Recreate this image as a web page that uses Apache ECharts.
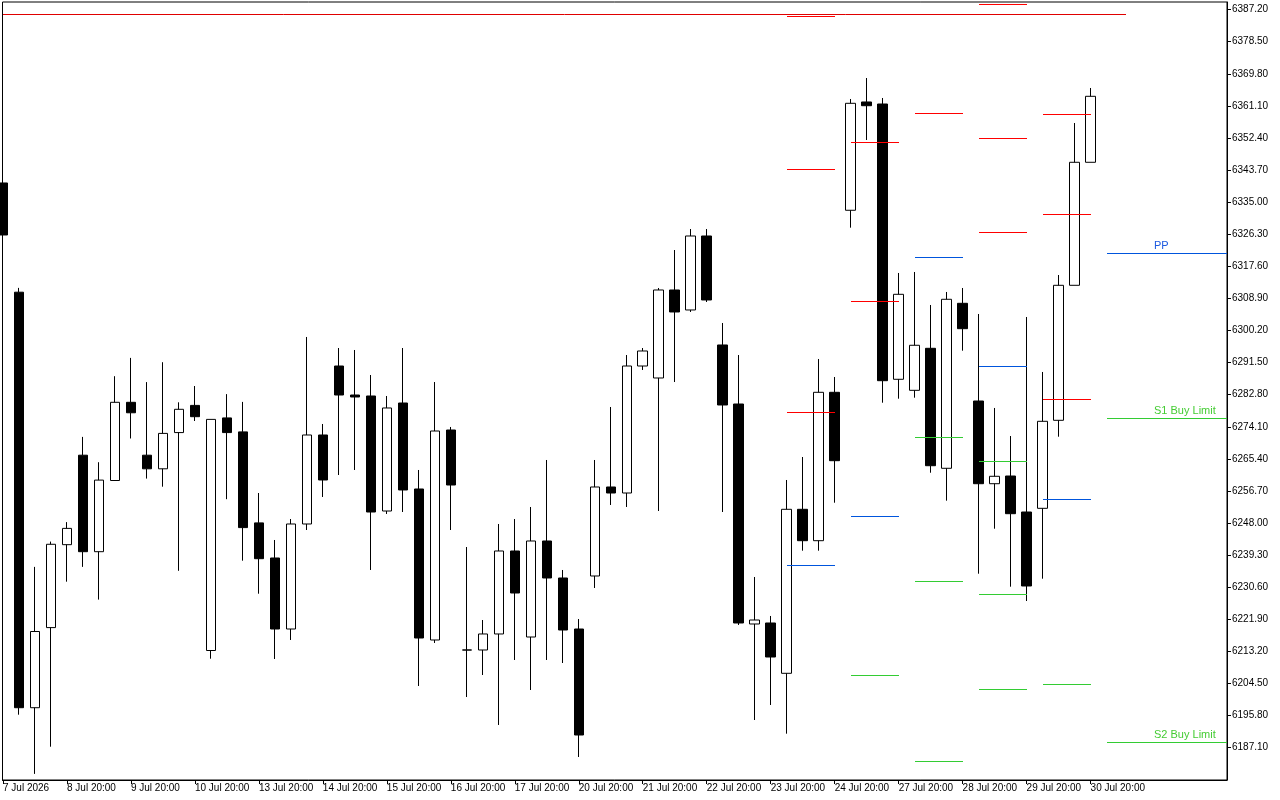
<!DOCTYPE html>
<html><head><meta charset="utf-8">
<script src="https://cdn.jsdelivr.net/npm/echarts@6/dist/echarts.min.js"></script>
<style>html,body{margin:0;padding:0;background:#fff}#c{width:1280px;height:800px}</style>
</head><body><div id="c"></div>
<script>
// ---- data ----
const xTickIndex = [0,4,8,12,16,20,24,28,32,36,40,44,48,52,56,60,64,68];
const xTickLabels = ['7 Jul 2026','8 Jul 20:00','9 Jul 20:00','10 Jul 20:00','13 Jul 20:00','14 Jul 20:00','15 Jul 20:00','16 Jul 20:00','17 Jul 20:00','20 Jul 20:00','21 Jul 20:00','22 Jul 20:00','23 Jul 20:00','24 Jul 20:00','27 Jul 20:00','28 Jul 20:00','29 Jul 20:00','30 Jul 20:00'];
const yTickValues = [6187.10,6195.80,6204.50,6213.20,6221.90,6230.60,6239.30,6248.00,6256.70,6265.40,6274.10,6282.80,6291.50,6300.20,6308.90,6317.60,6326.30,6335.00,6343.70,6352.40,6361.10,6369.80,6378.50,6387.20];

const opens  = [6340.19,6310.58,6197.93,6219.65,6242.13,6266.39,6240.23,6259.53,6280.73,6266.39,6262.70,6272.52,6279.89,6213.44,6276.50,6272.71,6248.04,6238.52,6219.27,6247.74,6271.87,6290.57,6282.71,6282.44,6251.26,6280.54,6257.23,6216.29,6273.22,6213.60,6213.58,6217.92,6240.42,6217.10,6243.13,6233.10,6219.27,6233.64,6257.77,6256.14,6290.57,6287.32,6311.18,6305.76,6325.82,6296.27,6280.27,6220.63,6220.90,6207.26,6251.72,6243.21,6283.44,6332.79,6362.15,6361.60,6286.97,6283.98,6295.37,6262.84,6307.57,6281.08,6258.66,6260.75,6250.99,6251.99,6275.85,6312.45,6345.80];
const closes = [6326.09,6197.93,6218.59,6242.24,6246.55,6240.23,6259.64,6280.73,6277.89,6262.70,6272.30,6278.83,6276.83,6276.10,6272.52,6246.76,6238.33,6219.27,6247.74,6271.87,6259.67,6282.71,6282.17,6250.99,6279.19,6256.96,6216.83,6272.95,6258.31,6213.55,6217.92,6240.42,6229.03,6243.13,6233.10,6219.00,6190.53,6257.77,6256.14,6290.57,6294.64,6311.18,6305.22,6325.82,6308.47,6280.00,6220.90,6221.71,6211.68,6251.72,6243.21,6283.44,6264.90,6361.79,6361.14,6286.59,6310.01,6296.19,6263.54,6308.66,6300.69,6258.66,6260.67,6250.53,6230.93,6275.58,6312.45,6345.80,6363.69];
const lows   = [6325.55,6196.04,6179.99,6187.36,6232.10,6236.11,6227.24,6259.53,6270.92,6260.05,6257.85,6235.05,6275.66,6211.22,6254.46,6237.79,6228.84,6211.14,6216.29,6246.11,6255.06,6261.02,6262.38,6235.27,6250.45,6250.99,6203.82,6215.48,6246.11,6200.83,6206.80,6193.25,6210.87,6202.73,6210.87,6210.05,6184.57,6230.39,6252.89,6252.35,6289.49,6251.26,6286.23,6305.22,6307.92,6250.99,6220.36,6194.60,6198.67,6190.89,6240.50,6240.50,6253.51,6328.07,6351.84,6280.62,6281.71,6281.98,6261.64,6254.06,6294.72,6234.26,6246.46,6230.74,6226.86,6232.91,6271.40,6312.45,6345.80];
const highs  = [6340.73,6311.75,6236.11,6242.97,6248.25,6271.35,6264.49,6287.81,6292.77,6286.21,6291.60,6280.73,6285.15,6276.10,6282.95,6280.84,6256.14,6243.40,6249.09,6298.44,6274.85,6295.45,6294.91,6288.13,6282.44,6295.45,6262.38,6286.23,6274.04,6241.50,6221.71,6247.74,6249.09,6252.35,6265.09,6235.27,6221.98,6265.09,6279.46,6293.55,6295.45,6311.72,6322.02,6327.71,6327.71,6302.23,6293.55,6233.37,6222.80,6259.67,6265.90,6292.47,6287.59,6362.96,6368.65,6363.23,6315.79,6316.06,6307.11,6310.64,6311.72,6304.67,6279.19,6271.59,6303.86,6288.95,6315.24,6356.45,6365.94];

// daily pivot levels (segments from first to last bar of each day)
const dayStart = [49,53,57,61,65];
const dayEnd   = [52,56,60,64,68];
const pivR3 = [6385.19, null,    null,    6388.36, 6358.54];
const pivR2 = [6343.71, 6350.95, null,    6352.03, 6331.43];
const pivR1 = [6277.75, 6307.84, 6358.81, 6326.55, 6281.27];
const pivPP = [6236.27, 6249.56, 6319.77, 6290.22, 6254.16];
const pivS1 = [null,    6206.45, 6270.97, 6264.47, 6203.99];
const pivS2 = [null,    null,    6231.93, 6228.49, null];
const pivS3 = [null,    null,    6183.13, 6202.65, null];

// next-day levels with labels
const nextStart = 69;
const nextLevels = [6320.94, 6276.21, 6188.36];
const nextNames  = ['PP', 'S1 Buy Limit', 'S2 Buy Limit'];

const bidPrice = 6385.70;

// ---- chart ----
const RED = '#ff0000', BLUE = '#0055dd', GREEN = '#33cc33', BID = '#e00000';
const X_MIN = -0.03125, X_MAX = 76.53, BID_END = 70.2;
const Y_MIN = 6178.334, Y_MAX = 6389.255;
const FONT = '"Liberation Sans", Arial, sans-serif';

const candles = opens.map((o, i) => [i, o, closes[i], lows[i], highs[i]]);

// segments: data [start, end, value]; style info kept in a parallel list
const segments = [];
const segStyle = [];
function addLevels(arr, color) {
  arr.forEach((v, d) => {
    if (v != null) { segments.push([dayStart[d], dayEnd[d], v]); segStyle.push({color: color, label: null}); }
  });
}
addLevels(pivR3, RED); addLevels(pivR2, RED); addLevels(pivR1, RED);
addLevels(pivPP, BLUE);
addLevels(pivS1, GREEN); addLevels(pivS2, GREEN); addLevels(pivS3, GREEN);
nextLevels.forEach((v, k) => {
  segments.push([nextStart, X_MAX, v]);
  segStyle.push({color: k === 0 ? BLUE : GREEN, label: nextNames[k], labelColor: k === 0 ? '#1d5ae0' : '#44cc33'});
});
segments.push([X_MIN, BID_END, bidPrice]);
segStyle.push({color: BID, label: null});

function renderSegment(params, api) {
  const seg = segments[params.dataIndex];
  const st = segStyle[params.dataIndex];
  const p1 = api.coord([seg[0], seg[2]]), p2 = api.coord([seg[1], seg[2]]);
  const y = Math.round(p1[1]) - 0.5;
  const children = [{
    type: 'line',
    shape: {x1: Math.round(p1[0]), y1: y, x2: Math.round(p2[0]), y2: y},
    style: {stroke: st.color, lineWidth: 1}
  }];
  if (st.label) {
    children.push({
      type: 'text', x: Math.round(p1[0]) + 47, y: y - 2,
      style: {text: st.label, fill: st.labelColor, fontFamily: FONT, fontSize: 11,
              align: 'left', verticalAlign: 'bottom'}
    });
  }
  return {type: 'group', children: children};
}

const chart = echarts.init(document.getElementById('c'), null, {renderer: 'canvas'});
chart.setOption({
  animation: false,
  backgroundColor: '#fff',
  grid: {left: 2, top: 2, right: 53, bottom: 20, show: true, borderColor: '#000', borderWidth: 1, backgroundColor: '#fff'},
  xAxis: {
    type: 'value', min: X_MIN, max: X_MAX, position: 'bottom',
    splitLine: {show: false},
    axisLine: {show: true, onZero: false, lineStyle: {color: '#000', width: 1}},
    axisTick: {show: true, length: 4, inside: false, customValues: xTickIndex, lineStyle: {color: '#000'}},
    axisLabel: {show: true, customValues: xTickIndex, align: 'left', margin: 3, color: '#000',
      fontFamily: FONT, fontSize: 10,
      formatter: v => { const k = xTickIndex.indexOf(Math.round(v)); return k >= 0 ? xTickLabels[k] : ''; }}
  },
  yAxis: {
    type: 'value', min: Y_MIN, max: Y_MAX, position: 'right',
    splitLine: {show: false},
    axisLine: {show: true, onZero: false, lineStyle: {color: '#000', width: 1}},
    axisTick: {show: true, length: 4, customValues: yTickValues, lineStyle: {color: '#000'}},
    axisLabel: {show: true, customValues: yTickValues, align: 'left', margin: 5, color: '#000',
      fontFamily: FONT, fontSize: 10, formatter: v => v.toFixed(2)}
  },
  series: [{
    type: 'candlestick',
    data: candles,
    encode: {x: 0, y: [1, 2, 3, 4]},
    barWidth: 10,
    clip: true,
    z: 2,
    itemStyle: {color: '#fff', color0: '#000', borderColor: '#000', borderColor0: '#000', borderColorDoji: '#000', borderWidth: 1},
    emphasis: {disabled: true},
    markLine: {silent: true, symbol: ['none', 'none'], animation: false, emphasis: {disabled: true},
      data: [{yAxis: bidPrice, lineStyle: {opacity: 0},
        label: {show: true, position: 'end', formatter: bidPrice.toFixed(2), color: '#fff',
          backgroundColor: '#c80000', padding: [1, 3, 0, 3], lineHeight: 11,
          fontFamily: FONT, fontSize: 10, distance: 2}}]}
  }, {
    type: 'custom',
    data: segments,
    encode: {x: [0, 1], y: 2},
    renderItem: renderSegment,
    clip: false,
    silent: true,
    z: 3
  }]
});
</script>
</body></html>
